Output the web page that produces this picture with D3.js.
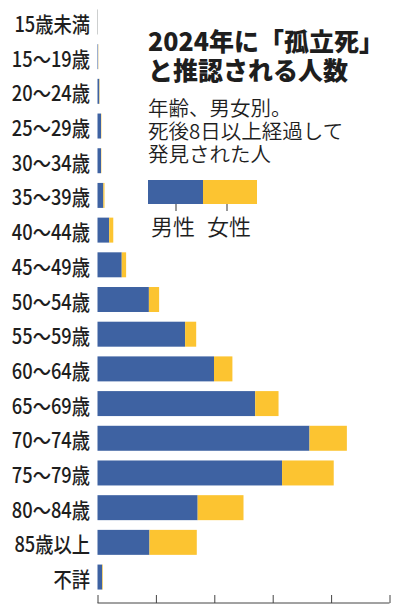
<!DOCTYPE html>
<html>
<head>
<meta charset="utf-8">
<script src="https://cdn.jsdelivr.net/npm/d3@7/dist/d3.min.js"></script>
<style>
  html, body { margin: 0; padding: 0; background: #fff; }
  svg { display: block; }
  text { font-family: "Noto Sans CJK JP", "Noto Sans", sans-serif; fill: #1e1e1e; }
</style>
</head>
<body>
<div id="chart"></div>
<script>
// 年齢区分
var ages = ["15歳未満", "15～19歳", "20～24歳", "25～29歳", "30～34歳", "35～39歳",
    "40～44歳", "45～49歳", "50～54歳", "55～59歳", "60～64歳", "65～69歳",
    "70～74歳", "75～79歳", "80～84歳", "85歳以上", "不詳"];
// 男性（人）
var male = [5, 10, 30, 60, 60, 100, 200, 415, 880, 1500, 1995, 2700, 3630, 3160, 1715, 890, 80];
// 女性（人）
var female = [2, 4, 6, 6, 6, 20, 70, 75, 175, 190, 315, 400, 640, 885, 785, 810, 10];
var ticks = [0, 1000, 2000, 3000, 4000, 5000];

var titleLines = ["2024年に「孤立死」", "と推認される人数"];
var noteLines = ["年齢、男女別。", "死後8日以上経過して", "発見された人"];
var legendNames = ["男性", "女性"];

var width = 393, height = 605;
var blue = "#3e62a2", yellow = "#fcc431";

var data = ages.map(function(a, i) {
    return { age: a, male: male[i], female: female[i] };
});

var svg = d3.select("#chart").append("svg")
    .attr("width", width)
    .attr("height", height);

var x = d3.scaleLinear().domain([0, 5000]).range([97.5, 389.5]);
var y = d3.scaleBand().domain(ages).range([4.6, 594.4])
    .paddingInner(0.28).paddingOuter(0.14);

// 男性
svg.append("g").selectAll("rect")
    .data(data)
    .enter()
    .append("rect")
    .attr("x", x(0))
    .attr("y", function(d) { return y(d.age); })
    .attr("width", function(d) { return x(d.male) - x(0); })
    .attr("height", y.bandwidth())
    .attr("fill", blue);

// 女性
svg.append("g").selectAll("rect")
    .data(data)
    .enter()
    .append("rect")
    .attr("x", function(d) { return x(d.male); })
    .attr("y", function(d) { return y(d.age); })
    .attr("width", function(d) { return x(d.male + d.female) - x(d.male); })
    .attr("height", y.bandwidth())
    .attr("fill", yellow);

// 年齢ラベル
svg.append("g").selectAll("text")
    .data(ages)
    .enter()
    .append("text")
    .attr("transform", function(d) {
        return "translate(90," + (y(d) + y.bandwidth() / 2 + 1) + ") scale(0.87,1)";
    })
    .attr("text-anchor", "end")
    .attr("dominant-baseline", "central")
    .attr("font-size", 21)
    .attr("font-weight", 500)
    .attr("fill", "#141414")
    .text(function(d) { return d; });

// 下の目盛り
var xAxis = d3.axisTop(x).tickValues(ticks).tickSize(8).tickFormat("");
var ax = svg.append("g")
    .attr("transform", "translate(0,603)")
    .call(xAxis);
ax.select(".domain").attr("stroke", "#444").attr("d", "M" + x(0) + ",0H" + x(5000));
ax.selectAll(".tick line").attr("stroke", "#444");

// タイトル
svg.append("g").selectAll("text")
    .data(titleLines)
    .enter()
    .append("text")
    .attr("x", 148)
    .attr("y", function(d, i) { return 51 + i * 29; })
    .attr("font-size", 25)
    .attr("font-weight", 900)
    .attr("fill", "#111")
    .text(function(d) { return d; });

svg.append("g").selectAll("text")
    .data(noteLines)
    .enter()
    .append("text")
    .attr("x", 148)
    .attr("y", function(d, i) { return 116 + i * 23; })
    .attr("font-size", 20.5)
    .attr("font-weight", 350)
    .attr("fill", "#2a2a2a")
    .text(function(d) { return d; });

// 凡例
var lg = svg.append("g");
lg.append("rect").attr("x", 148).attr("y", 180).attr("width", 55).attr("height", 24).attr("fill", blue);
lg.append("rect").attr("x", 203).attr("y", 180).attr("width", 54).attr("height", 24).attr("fill", yellow);
[176, 227].forEach(function(px, i) {
    lg.append("line").attr("x1", px).attr("x2", px).attr("y1", 204).attr("y2", 211)
        .attr("stroke", "#555").attr("stroke-width", 1.2);
    lg.append("text")
        .attr("x", px - 3 + i * 5)
        .attr("y", 235)
        .attr("text-anchor", "middle")
        .attr("font-size", 22)
        .attr("font-weight", 350)
        .attr("fill", "#141414")
        .text(legendNames[i]);
});
</script>
</body>
</html>
